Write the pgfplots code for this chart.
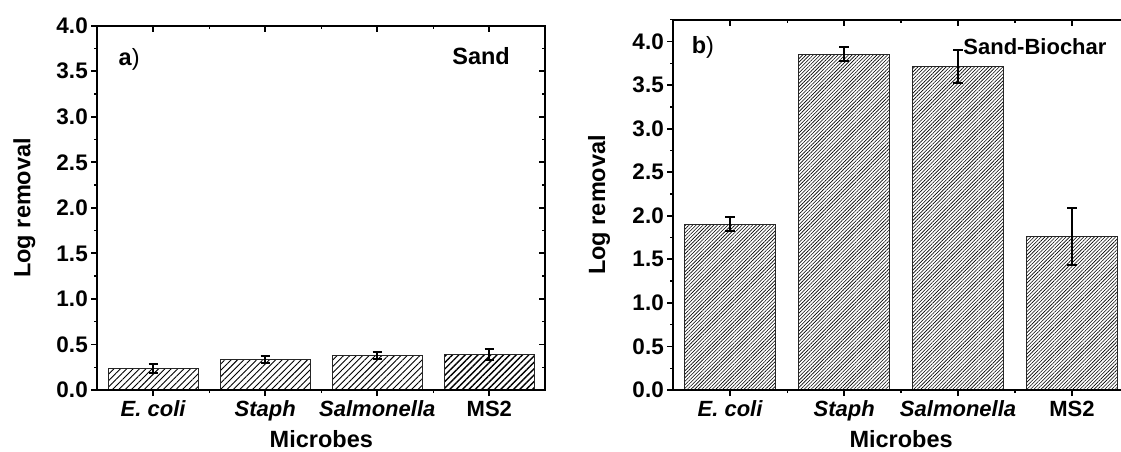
\documentclass[border=0pt]{standalone}
\usepackage{fontspec}
\setmainfont{Liberation Sans}
\usepackage{pgfplots}
\pgfplotsset{compat=1.18}
\usetikzlibrary{patterns.meta}

\pgfplotsset{
  panel/.style={
    scale only axis,
    anchor=south west,
    xmin=-0.5, xmax=3.5,
    ymin=0,
    xtick={0,1,2,3},
    minor xtick={0.5,1.5,2.5},
    ytick={0,0.5,...,4.0},
    minor ytick={0.25,0.75,...,4.25},
    axis line style={line width=2pt, black},
    major tick length=6pt,
    minor tick length=3pt,
    every tick/.style={line width=1.8pt, black},
    every minor tick/.style={line width=1.4pt, black},
    /pgf/number format/assume math mode=true,
    /pgf/number format/fixed,
    /pgf/number format/fixed zerofill,
    /pgf/number format/precision=1,
    yticklabel style={font=\fontsize{22.5}{22.5}\selectfont\bfseries},
    xticklabel style={font=\fontsize{22}{22}\selectfont\bfseries, anchor=base, yshift=-20pt},
    xticklabels={\textit{E. coli}, \textit{Staph}, \textit{Salmonella}, MS2},
    every axis y label/.style={at={(axis description cs:-0.163,0.5)}, rotate=90, anchor=center, font=\fontsize{23.5}{23.5}\selectfont\bfseries},
    every axis x label/.style={at={(axis description cs:0.5,0)}, anchor=base, yshift=-57.3pt, font=\fontsize{23.5}{23.5}\selectfont\bfseries},
    ylabel={Log removal},
    xlabel={Microbes},
  },
  mainpanel/.style={panel, tick align=outside, xtick pos=left, ytick pos=left},
  overpanel/.style={panel, tick align=inside, xtick pos=right, ytick pos=right,
    xticklabels={}, yticklabels={}, ylabel={}, xlabel={}},
  barerr/.style={
    ybar, bar width=0.8, bar shift=0pt,
    draw=black!85, line width=0.9pt,
    error bars/y dir=both, error bars/y explicit,
    error bars/error bar style={line width=2pt, black},
    error bars/error mark options={rotate=90, mark size=4.8pt, line width=2pt, black},
  },
}

\begin{document}
\begin{tikzpicture}
\useasboundingbox (0,0) rectangle (1121pt,451pt);

% ---------- panel a ----------
\begin{axis}[mainpanel, at={(97.3pt,61pt)}, width=448pt, height=364.3pt, ymax=4.0]
\addplot[barerr, pattern={Lines[angle=45,distance=4.5pt,line width=0.9pt]}, pattern color=black]
  coordinates {(0,0.24) +- (0,0.05) (1,0.335) +- (0,0.04) (2,0.38) +- (0,0.04)};
\addplot[barerr, pattern={Lines[angle=45,distance=4.5pt,line width=1.4pt]}, pattern color=black]
  coordinates {(3,0.39) +- (0,0.065)};
\node[anchor=base west, font=\fontsize{23.5}{23.5}\selectfont] at (rel axis cs:0.0395,0.892) {\textbf{a})};
\node[anchor=base east, font=\fontsize{23.5}{23.5}\selectfont\bfseries] at (rel axis cs:0.9286,0.894) {Sand};
\end{axis}
\begin{axis}[overpanel, at={(97.3pt,61pt)}, width=448pt, height=364.3pt, ymax=4.0]
\end{axis}

% ---------- panel b ----------
\begin{axis}[mainpanel, at={(673.3pt,61pt)}, width=455.6pt, height=370.2pt, ymax=4.25]
\addplot[barerr, pattern={Lines[angle=45,distance=2.5pt,line width=0.6pt]}, pattern color=black]
  coordinates {(0,1.905) +- (0,0.08) (1,3.855) +- (0,0.08) (2,3.71) +- (0,0.19) (3,1.765) +- (0,0.33)};
\node[anchor=base west, font=\fontsize{23.5}{23.5}\selectfont] at (rel axis cs:0.033,0.9095) {\textbf{b})};
\node[anchor=base east, font=\fontsize{22}{22}\selectfont\bfseries] at (rel axis cs:0.9585,0.905) {Sand-Biochar};
\end{axis}
\begin{axis}[overpanel, at={(673.3pt,61pt)}, width=455.6pt, height=370.2pt, ymax=4.25]
\end{axis}
\end{tikzpicture}
\end{document}
